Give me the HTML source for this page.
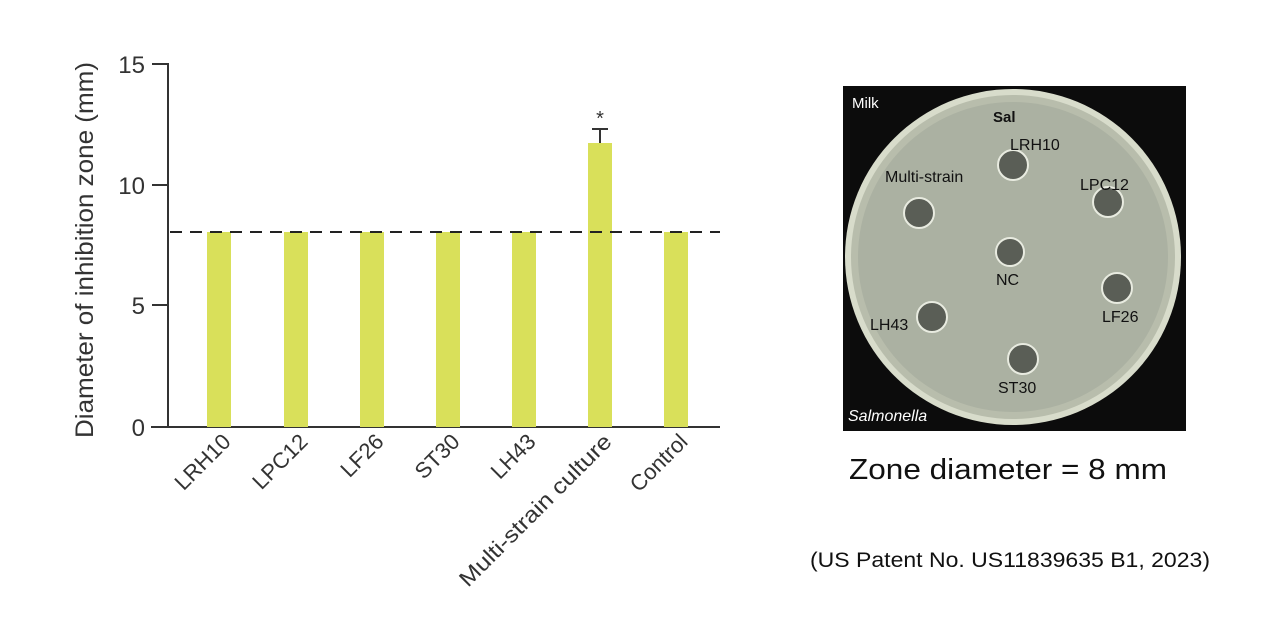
<!DOCTYPE html>
<html><head><style>body{margin:0;background:#fff;}svg{display:block;}</style></head>
<body>
<svg width="1280" height="627" xmlns="http://www.w3.org/2000/svg" font-family="Liberation Sans, DejaVu Sans, sans-serif">
<rect width="1280" height="627" fill="#fff"/>
<line x1="168" y1="63" x2="168" y2="428" stroke="#333" stroke-width="2"/>
<line x1="151" y1="427" x2="720" y2="427" stroke="#333" stroke-width="2"/>
<g stroke="#333" stroke-width="2">
<line x1="152" y1="64" x2="168" y2="64"/><line x1="152" y1="185" x2="168" y2="185"/>
<line x1="152" y1="305" x2="168" y2="305"/>
</g>
<g font-size="24" fill="#333" text-anchor="end">
<text x="145" y="73">15</text><text x="145" y="194">10</text><text x="145" y="314">5</text><text x="145" y="436">0</text>
</g>
<text transform="translate(93,250) rotate(-90)" font-size="25" fill="#333" text-anchor="middle" textLength="376" lengthAdjust="spacingAndGlyphs">Diameter of inhibition zone (mm)</text>
<g fill="#d9e05a">
<rect x="207" y="232" width="24" height="195"/>
<rect x="284" y="232" width="24" height="195"/>
<rect x="360" y="232" width="24" height="195"/>
<rect x="436" y="232" width="24" height="195"/>
<rect x="512" y="232" width="24" height="195"/>
<rect x="588" y="143" width="24" height="284"/>
<rect x="664" y="232" width="24" height="195"/>
</g>
<line x1="170" y1="232" x2="720" y2="232" stroke="#222" stroke-width="2" stroke-dasharray="12,8"/>
<g stroke="#333" stroke-width="2" fill="none"><path d="M600 143 V129 M592 129 H608"/></g>
<text x="600" y="125" font-size="20" text-anchor="middle" fill="#333">*</text>
<g font-size="22" fill="#333" text-anchor="end">
<text transform="translate(232,443) rotate(-45)">LRH10</text>
<text transform="translate(309,443) rotate(-45)">LPC12</text>
<text transform="translate(385,443) rotate(-45)">LF26</text>
<text transform="translate(461,443) rotate(-45)">ST30</text>
<text transform="translate(537,443) rotate(-45)">LH43</text>
<text transform="translate(613,443) rotate(-45)" textLength="205" lengthAdjust="spacingAndGlyphs">Multi-strain culture</text>
<text transform="translate(689,443) rotate(-45)">Control</text>
</g>
<rect x="843" y="86" width="343" height="345" fill="#0c0c0c"/>
<circle cx="1013" cy="257" r="168" fill="#d8dccb"/>
<circle cx="1013" cy="257" r="162" fill="#b8bdac"/>
<circle cx="1013" cy="257" r="155" fill="#abb1a2"/>
<g fill="#5a5e56" stroke="#e8ebe0" stroke-width="2">
<circle cx="1013" cy="165" r="15"/><circle cx="919" cy="213" r="15"/><circle cx="1108" cy="202" r="15"/>
<circle cx="1010" cy="252" r="14"/><circle cx="1117" cy="288" r="15"/><circle cx="932" cy="317" r="15"/><circle cx="1023" cy="359" r="15"/>
</g>
<g font-size="16" fill="#111">
<text x="1010" y="150">LRH10</text><text x="885" y="182">Multi-strain</text><text x="1080" y="190">LPC12</text>
<text x="996" y="285">NC</text><text x="1102" y="322">LF26</text><text x="870" y="330">LH43</text><text x="998" y="393">ST30</text>
<text x="993" y="122" font-weight="bold" font-size="15">Sal</text>
</g>
<text x="852" y="108" font-size="15" fill="#fff">Milk</text>
<text x="848" y="421" font-size="16" font-style="italic" fill="#fff">Salmonella</text>
<text x="1008" y="479" font-size="29" fill="#111" text-anchor="middle" textLength="318" lengthAdjust="spacingAndGlyphs">Zone diameter = 8 mm</text>
<text x="1010" y="567" font-size="21" fill="#111" text-anchor="middle" textLength="400" lengthAdjust="spacingAndGlyphs">(US Patent No. US11839635 B1, 2023)</text>
</svg>
</body></html>
